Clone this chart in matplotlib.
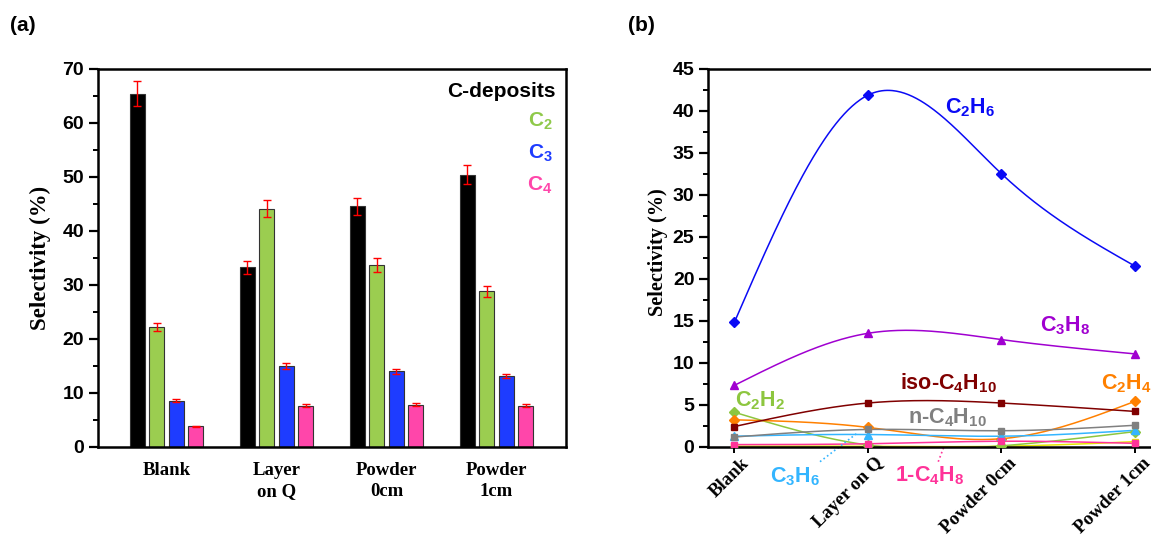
import numpy as np
import matplotlib
matplotlib.use('Agg')
import matplotlib.pyplot as plt
from matplotlib.ticker import MultipleLocator
from matplotlib.transforms import ScaledTranslation

plt.rcParams['mathtext.fontset'] = 'custom'
plt.rcParams['mathtext.bf'] = 'Liberation Sans:bold'
plt.rcParams['mathtext.rm'] = 'Liberation Sans:bold'
plt.rcParams['font.family'] = ['Liberation Sans', 'DejaVu Sans']

# ---------------- data: panel (a) ----------------
categories_a = ['Blank', 'Layer\non Q', 'Powder\n0cm', 'Powder\n1cm']
cdep = [65.4, 33.2, 44.5, 50.4]
cdep_err = [2.3, 1.2, 1.6, 1.8]
c2 = [22.2, 44.1, 33.6, 28.8]
c2_err = [0.8, 1.6, 1.3, 1.05]
c3 = [8.5, 15.0, 14.0, 13.1]
c3_err = [0.3, 0.55, 0.45, 0.4]
c4 = [3.8, 7.6, 7.8, 7.6]
c4_err = [0.12, 0.25, 0.25, 0.25]

# ---------------- data: panel (b) ----------------
categories_b = ['Blank', 'Layer on Q', 'Powder 0cm', 'Powder 1cm']
c2h6 = [14.8, 41.85, 32.5, 21.5]
c3h8 = [7.3, 13.5, 12.75, 11.05]
iso_c4h10 = [2.4, 5.2, 5.2, 4.2]
c2h4 = [3.2, 2.3, 0.95, 5.4]
c2h2 = [4.1, 0.2, 0.1, 1.8]
n_c4h10 = [1.15, 2.05, 1.9, 2.55]
c3h6 = [1.25, 1.45, 1.25, 1.95]
c4h8_1 = [0.25, 0.35, 0.65, 0.4]
other = [0.05, 0.05, 0.05, 0.6]


def natural_spline(y, n=300):
    y = np.asarray(y, dtype=float)
    m = len(y)
    A = np.zeros((m, m))
    r = np.zeros(m)
    A[0, 0] = A[-1, -1] = 1.0
    for i in range(1, m - 1):
        A[i, i - 1], A[i, i], A[i, i + 1] = 1.0, 4.0, 1.0
        r[i] = 6.0 * (y[i + 1] - 2 * y[i] + y[i - 1])
    M = np.linalg.solve(A, r)
    xs = np.linspace(0, m - 1, n)
    idx = np.clip(np.floor(xs).astype(int), 0, m - 2)
    t = xs - idx
    a, b = y[idx], y[idx + 1]
    Ma, Mb = M[idx], M[idx + 1]
    ys = (1 - t) * a + t * b + ((1 - t) ** 3 - (1 - t)) * Ma / 6 + (t ** 3 - t) * Mb / 6
    return xs, ys


W, H = 1151, 541
fig = plt.figure(figsize=(W / 100, H / 100), dpi=100)

SPINE_W = 1.8
tick_font = dict(family='Liberation Sans', weight='bold', size=14)
serif_bold = dict(family='Liberation Serif', weight='bold')

# ================= panel (a) =================
axa = fig.add_axes([98 / W, 1 - 446.7 / H, (566 - 98) / W, (446.7 - 68.7) / H])
x = np.arange(len(categories_a))
bw = 0.136
step = 0.177
series = [(cdep, cdep_err, '#000000'), (c2, c2_err, '#9BCD50'),
          (c3, c3_err, '#1E3CFF'), (c4, c4_err, '#FF46AA')]
for k, (vals, errs, col) in enumerate(series):
    pos = x + (k - 1.5) * step
    axa.bar(pos, vals, width=bw, color=col, edgecolor='#333333', linewidth=0.8, zorder=2)
    axa.errorbar(pos, vals, yerr=errs, fmt='none', ecolor='red', elinewidth=1.0,
                 capsize=2.6, capthick=1.0, zorder=3)
axa.set_xlim(-0.623, 3.632)
axa.set_ylim(0, 70)
axa.yaxis.set_major_locator(MultipleLocator(10))
axa.yaxis.set_minor_locator(MultipleLocator(5))
axa.set_xticks(x)
axa.set_xticklabels(categories_a, fontsize=13.5, linespacing=1.3, **serif_bold)
axa.tick_params(axis='x', length=0, pad=11)
axa.tick_params(axis='y', which='major', direction='out', length=6.5, width=1.6)
axa.tick_params(axis='y', which='minor', direction='out', length=3.5, width=1.4)
for lab in axa.get_yticklabels():
    lab.set_fontproperties(matplotlib.font_manager.FontProperties(**tick_font))
for s in axa.spines.values():
    s.set_linewidth(SPINE_W)
axa.set_ylabel('Selectivity (%)', fontsize=16.5, **serif_bold)
axa.yaxis.set_label_coords(-0.101, 0.5)

axa.text(0.978, 0.925, 'C-deposits', transform=axa.transAxes, ha='right', va='baseline',
         fontsize=15, fontweight='bold', color='black')
axa.text(0.972, 0.848, r'C$_\mathbf{2}$', transform=axa.transAxes, ha='right', va='baseline',
         fontsize=15, fontweight='bold', color='#8FC94A')
axa.text(0.972, 0.764, r'C$_\mathbf{3}$', transform=axa.transAxes, ha='right', va='baseline',
         fontsize=15, fontweight='bold', color='#1E3CFF')
axa.text(0.972, 0.679, r'C$_\mathbf{4}$', transform=axa.transAxes, ha='right', va='baseline',
         fontsize=15, fontweight='bold', color='#FF46AA')

fig.text(10 / W, 1 - 31 / H, '(a)', fontsize=15, fontweight='bold', ha='left', va='baseline')
fig.text(628 / W, 1 - 31 / H, '(b)', fontsize=15, fontweight='bold', ha='left', va='baseline')

# ================= panel (b) =================
axb = fig.add_axes([708.3 / W, 1 - 446.7 / H, (1161 - 708.3) / W, (446.7 - 68.7) / H])
xb = np.arange(len(categories_b))
lines_b = [
    (other, '#E6E600', 's', 4.5),
    (c2h2, '#8DC63F', 'D', 5.0),
    (c2h4, '#FF8000', 'D', 5.0),
    (c3h6, '#33B5FF', '^', 5.5),
    (n_c4h10, '#808080', 's', 4.5),
    (iso_c4h10, '#800000', 's', 4.5),
    (c4h8_1, '#FF3399', 's', 4.5),
    (c3h8, '#A000D0', '^', 5.5),
    (c2h6, '#0A0AF5', 'D', 5.5),
]
for vals, col, mk, ms in lines_b:
    xs, ys = natural_spline(vals)
    axb.plot(xs, ys, color=col, lw=1.1, zorder=2)
    axb.plot(xb, vals, ls='none', marker=mk, ms=ms, color=col, mec=col, zorder=3)
axb.set_xlim(-0.195, 3.195)
axb.set_ylim(0, 45)
axb.yaxis.set_major_locator(MultipleLocator(5))
axb.yaxis.set_minor_locator(MultipleLocator(2.5))
axb.set_xticks(xb)
axb.set_xticklabels(categories_b, fontsize=13.5, rotation=45, ha='right', va='top',
                    rotation_mode='anchor', **serif_bold)
axb.tick_params(axis='x', direction='out', length=4, width=1.4, pad=0)
for lab in axb.get_xticklabels():
    lab.set_transform(lab.get_transform() + ScaledTranslation(0.065, -0.025, fig.dpi_scale_trans))
axb.tick_params(axis='y', which='major', direction='out', length=6.5, width=1.6)
axb.tick_params(axis='y', which='minor', direction='out', length=3.5, width=1.4)
for lab in axb.get_yticklabels():
    lab.set_fontproperties(matplotlib.font_manager.FontProperties(**tick_font))
for s in axb.spines.values():
    s.set_linewidth(SPINE_W)
axb.set_ylabel('Selectivity (%)', fontsize=14.6, **serif_bold)
axb.yaxis.set_label_coords(-0.088, 0.515)

lab_fs = 15.5
def lbl(px, py, s, col):
    axb.text((px - 734.3) / 133.6, (446.7 - py) / 8.4, s, color=col, fontsize=lab_fs,
             fontweight='bold', ha='left', va='baseline', clip_on=False)

lbl(945, 113, r'C$_\mathbf{2}$H$_\mathbf{6}$', '#0A0AF5')
lbl(1040, 331, r'C$_\mathbf{3}$H$_\mathbf{8}$', '#A000D0')
lbl(900, 389, r'iso-C$_\mathbf{4}$H$_\mathbf{10}$', '#800000')
lbl(1101, 389, r'C$_\mathbf{2}$H$_\mathbf{4}$', '#FF8000')
lbl(735, 406, r'C$_\mathbf{2}$H$_\mathbf{2}$', '#8DC63F')
lbl(908, 423, r'n-C$_\mathbf{4}$H$_\mathbf{10}$', '#808080')
lbl(770, 482, r'C$_\mathbf{3}$H$_\mathbf{6}$', '#33B5FF')
lbl(895, 481, r'1-C$_\mathbf{4}$H$_\mathbf{8}$', '#FF3399')

def to_data(px, py):
    return (px - 734.3) / 133.6, (446.7 - py) / 8.4

p0, p1 = to_data(820, 461.7), to_data(857, 433.3)
axb.plot([p0[0], p1[0]], [p0[1], p1[1]], ls=':', color='#33B5FF', lw=1.2, clip_on=False)
q0, q1 = to_data(938.3, 461.7), to_data(944, 446.7)
axb.plot([q0[0], q1[0]], [q0[1], q1[1]], ls=':', color='#FF3399', lw=1.2, clip_on=False)

fig.savefig('out.png', dpi=100)
